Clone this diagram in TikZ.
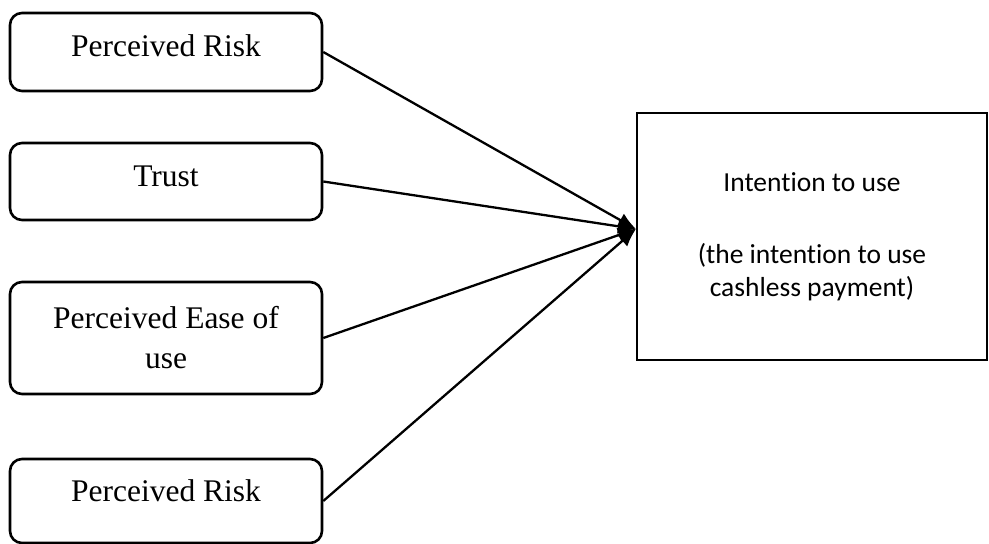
\documentclass[tikz,border=0pt]{standalone}
\usepackage{fontspec}
\setmainfont{Liberation Serif}
\newfontfamily\calibri[Ligatures=NoCommon]{Carlito}
\usetikzlibrary{arrows.meta}
\begin{document}
\begin{tikzpicture}[x=1pt,y=-1pt,
	factor/.style={draw, line width=2.6pt, rounded corners=12pt, minimum width=312pt, align=center, inner sep=0pt, font=\fontsize{31.5}{40}\selectfont},
	outcome/.style={draw, line width=2.6pt, minimum width=350pt, minimum height=247pt, align=center, inner sep=0pt, font=\calibri\fontsize{27.5}{33}\selectfont},
	link/.style={line width=2.3pt, -{Latex[length=18pt,width=15pt]}}]
			\useasboundingbox (0,0) rectangle (989,544);
			\node[factor, minimum height=78pt, text depth=12pt] (risk) at (166,52) {Perceived Risk};
			\node[factor, minimum height=77pt, text depth=10pt] (trust) at (166,181.5) {Trust};
			\node[factor, minimum height=112pt] (ease) at (166,338) {Perceived Ease of\\use};
			\node[factor, minimum height=84pt, text depth=20pt] (riskb) at (166,501) {Perceived Risk};
			\node[outcome] (intent) at (812,236.5) {Intention to use\\[39pt](the intention to use\\cashless payment)};
			\coordinate (hub) at (636,229);
			\draw[link] (risk.east) -- (hub);
			\draw[link] (trust.east) -- (hub);
			\draw[link] (ease.east) -- (hub);
			\draw[link] (riskb.east) -- (hub);
\end{tikzpicture}
\end{document}
